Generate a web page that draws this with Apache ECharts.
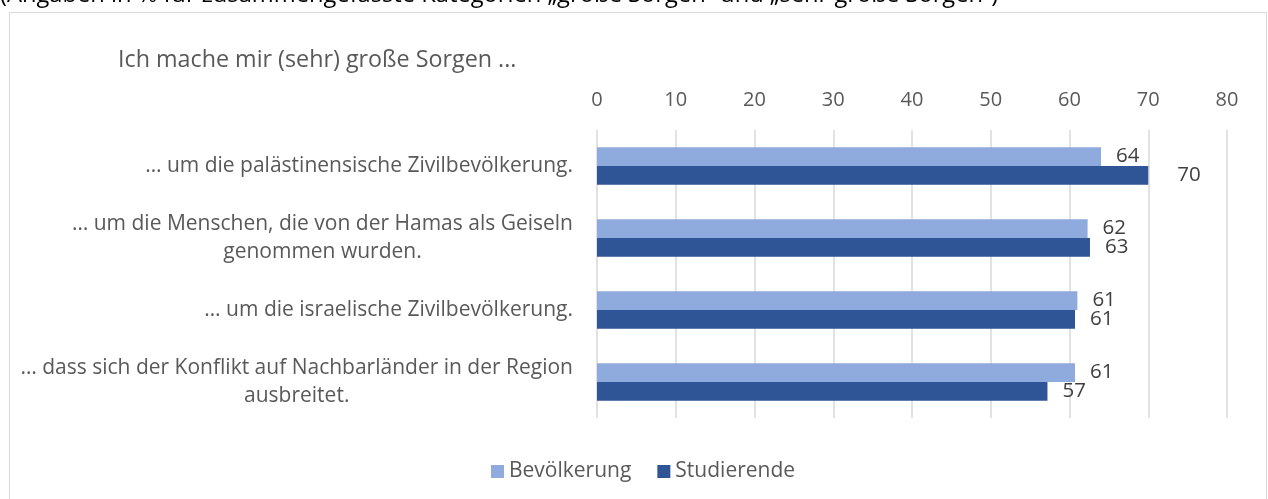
<!DOCTYPE html>
<html>
<head>
<meta charset="utf-8">
<script src="https://cdn.jsdelivr.net/npm/echarts@6/dist/echarts.min.js"></script>
<style>html,body{margin:0;padding:0;background:#fff;}#c{width:1268px;height:499px;}</style>
</head>
<body>
<div id="c"></div>
<script>
const categories = [
  '… um die palästinensische Zivilbevölkerung.',
  '… um die Menschen, die von der Hamas als Geiseln\ngenommen wurden.',
  '… um die israelische Zivilbevölkerung.',
  '… dass sich der Konflikt auf Nachbarländer in der Region\nausbreitet.'
];
const seriesNames = ['Bevölkerung', 'Studierende'];
const bevoelkerung = [64, 62.3, 61, 60.7];
const studierende = [70, 62.6, 60.7, 57.2];
const xTicks = [0, 10, 20, 30, 40, 50, 60, 70, 80];

const FONT = 'Open Sans';
const chart = echarts.init(document.getElementById('c'), null, {renderer: 'canvas'});
const labelStyle = {show: true, position: 'right', distance: 15, color: '#404040', fontFamily: FONT, fontSize: 20.5,
  formatter: p => Math.round(p.value)};
chart.setOption({
  animation: false,
  textStyle: {fontFamily: FONT},
  graphic: [
    {type: 'rect', shape: {x: 9.5, y: 12.5, width: 1257, height: 500}, style: {fill: 'none', stroke: '#d9d9d9', lineWidth: 1}},
    {type: 'text', left: 0, top: -17, style: {text: '(Angaben in % für zusammengefasste Kategorien „große Sorgen“ und „sehr große Sorgen“)', fill: '#000', fontFamily: FONT, fontSize: 23.7}},
    {type: 'text', left: 118, top: 49, style: {text: 'Ich mache mir (sehr) große Sorgen ...', fill: '#595959', fontFamily: FONT, fontSize: 23.3}}
  ],
  legend: {
    data: seriesNames, left: 486, top: 456, itemWidth: 13, itemHeight: 13, itemGap: 26, icon: 'rect',
    textStyle: {color: '#595959', fontFamily: FONT, fontSize: 21}
  },
  grid: {left: 597, right: 41, top: 130, bottom: 81, containLabel: false},
  xAxis: {
    type: 'value', position: 'top', min: xTicks[0], max: xTicks[xTicks.length - 1], interval: 10,
    axisLine: {show: false}, axisTick: {show: false},
    axisLabel: {color: '#595959', fontFamily: FONT, fontSize: 20, margin: 20},
    splitLine: {lineStyle: {color: '#d9d9d9', width: 1.5}}
  },
  yAxis: {
    type: 'category', data: categories, inverse: true,
    axisLine: {show: false}, axisTick: {show: false},
    axisLabel: {
      color: '#595959', fontFamily: FONT, fontSize: 21, margin: 24, align: 'right',
      formatter: v => v.split('\n').map(l => '{c|' + l + '}').join('\n'),
      rich: {c: {color: '#595959', fontFamily: FONT, fontSize: 21, lineHeight: 28, align: 'center'}}
    }
  },
  series: [
    {name: seriesNames[0], type: 'bar', data: bevoelkerung, itemStyle: {color: '#8faadc'}, barGap: '0%', barCategoryGap: '48%', label: labelStyle},
    {name: seriesNames[1], type: 'bar', data: studierende.map((v, i) => i === 0 ? {value: v, label: {distance: 29}} : v), itemStyle: {color: '#2f5597'}, barGap: '0%', barCategoryGap: '48%', label: labelStyle}
  ]
});
</script>
</body>
</html>
